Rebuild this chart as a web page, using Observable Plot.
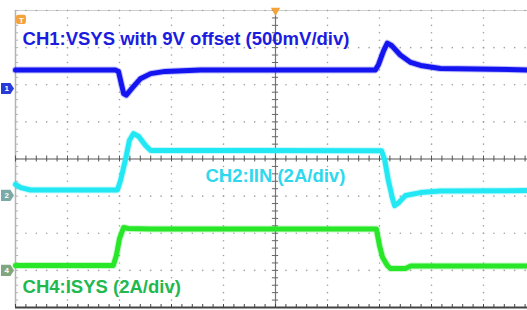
<!DOCTYPE html>
<html><head><meta charset="utf-8">
<script src="https://cdn.jsdelivr.net/npm/d3@7"></script>
<script src="https://cdn.jsdelivr.net/npm/@observablehq/plot@0.6"></script>
<style>html,body{margin:0;padding:0;background:#fff;} #chart{width:527px;height:310px;overflow:hidden}</style>
</head><body><div id="chart"></div>
<script>
// time in screen divisions
const ch1Time  = [0, 1.92, 1.98, 2.04, 2.08, 2.13, 2.25, 2.40, 2.60, 2.88, 3.56, 6.92, 6.98, 7.08, 7.15, 7.23, 7.40, 7.60, 7.79, 8.17, 9.85];
const ch1Volts = [9.25, 9.25, 9.23, 9.05, 8.93, 8.91, 9.01, 9.13, 9.20, 9.23, 9.25, 9.25, 9.32, 9.51, 9.61, 9.58, 9.45, 9.35, 9.31, 9.27, 9.25];
const ch2Time  = [0, 0.10, 0.29, 1.96, 2.02, 2.12, 2.19, 2.27, 2.37, 2.50, 2.60, 3.56, 7.04, 7.10, 7.17, 7.25, 7.29, 7.37, 7.50, 7.79, 8.17, 9.85];
const ch2Amps  = [0.59, 0.42, 0.29, 0.29, 0.80, 1.99, 2.96, 3.33, 3.17, 2.69, 2.42, 2.42, 2.40, 1.92, 0.80, -0.17, -0.55, -0.39, -0.01, 0.15, 0.23, 0.26];
const ch4Time  = [0, 1.88, 1.94, 2.00, 2.08, 2.17, 2.60, 6.94, 7.00, 7.06, 7.15, 7.21, 7.50, 7.60, 9.85];
const ch4Amps  = [0.26, 0.26, 0.80, 1.71, 2.31, 2.26, 2.23, 2.23, 1.34, 0.69, 0.26, 0.10, 0.10, 0.23, 0.23];

const ch1Offset = 9, ch1Scale = 0.5, ch1Pos = 1.90;
const ch2Scale = 2, ch2Pos = -0.98;
const ch4Scale = 2, ch4Pos = -3.0;

const labels = ["CH1:VSYS with 9V offset (500mV/div)", "CH2:IIN (2A/div)", "CH4:ISYS (2A/div)"];
const channelNames = ["1", "2", "4"];

const ch1 = ch1Time.map((t, i) => ({t, y: ch1Pos + (ch1Volts[i] - ch1Offset) / ch1Scale}));
const ch2 = ch2Time.map((t, i) => ({t, y: ch2Pos + ch2Amps[i] / ch2Scale}));
const ch4 = ch4Time.map((t, i) => ({t, y: ch4Pos + ch4Amps[i] / ch4Scale}));

const xMajor = d3.range(1, 10).filter(x => x !== 5);
const yMajor = [-3, -2, -1, 1, 2, 3];
const xMinor = d3.range(0, 9.9, 0.2);
const yMinor = d3.range(-4, 4.001, 0.2);
const vDots = xMajor.flatMap(x => yMinor.map(y => ({x, y})));
const hDots = yMajor.flatMap(y => xMinor.map(x => ({x, y})));
const topDots = xMinor.map(x => ({x, y: 4}));

const arrow = {draw(ctx, size) {
  const s = Math.sqrt(size / Math.PI);
  ctx.moveTo(-s, -s * 0.85);
  ctx.lineTo(s * 0.45, -s * 0.85);
  ctx.lineTo(s, 0);
  ctx.lineTo(s * 0.45, s * 0.85);
  ctx.lineTo(-s, s * 0.85);
  ctx.closePath();
}};

const markers = [
  {name: channelNames[0], y: ch1Pos, fill: "#2a3ad8"},
  {name: channelNames[1], y: ch2Pos, fill: "#79aaa6"},
  {name: channelNames[2], y: ch4Pos, fill: "#7fa67f"}
];

const font = "Liberation Sans, Arial, sans-serif";

const traceMarks = (data, color) => [
  Plot.line(data, {x: "t", y: "y", stroke: color, strokeWidth: 7, strokeOpacity: 0.25, strokeLinejoin: "round"}),
  Plot.line(data, {x: "t", y: "y", stroke: color, strokeWidth: 5, strokeLinejoin: "round"})
];

const chart = Plot.plot({
  width: 527, height: 310,
  marginLeft: 15, marginRight: 0, marginTop: 10, marginBottom: 3,
  x: {domain: [0, 512 / 52], axis: null},
  y: {domain: [-4, 4], axis: null},
  style: {fontFamily: font, background: "white", overflow: "visible"},
  marks: [
    // dotted graticule
    Plot.dot(vDots, {x: "x", y: "y", r: 0.8, fill: "#a0a0a0", stroke: null}),
    Plot.dot(hDots, {x: "x", y: "y", r: 0.8, fill: "#a0a0a0", stroke: null}),
    Plot.ruleY([4], {stroke: "#d0d0d0", strokeWidth: 1}),
    Plot.dot(topDots, {x: "x", y: "y", r: 0.8, fill: "#a0a0a0", stroke: null}),
    Plot.ruleX([0], {stroke: "#b4b4b4", strokeWidth: 1.5}),
    Plot.ruleY(yMinor, {y: d => d, x1: 0, x2: 0.06, stroke: "#b4b4b4"}),
    // centre cross with ticks
    Plot.ruleY([0], {stroke: "#555", strokeWidth: 1.2}),
    Plot.ruleX([5], {stroke: "#777", strokeWidth: 1.2}),
    Plot.ruleX(xMinor, {x: d => d, y1: -0.08, y2: 0.08, stroke: "#555"}),
    Plot.ruleY(yMinor, {y: d => d, x1: 4.94, x2: 5.06, stroke: "#666"}),
    // bottom border
    Plot.ruleY([-4], {stroke: "#444", strokeWidth: 2}),
    Plot.ruleX(xMinor, {x: d => d, y1: -4, y2: -3.92, stroke: "#444"}),
    // traces
    ...traceMarks(ch4, "#28e628"),
    ...traceMarks(ch2, "#22e8f4"),
    ...traceMarks(ch1, "#1414f0"),
    // labels
    Plot.text([labels[0]], {x: 0.135, y: 3.22, text: d => d, fill: "#1c1ce0", fontSize: 18.5, fontWeight: "bold", textAnchor: "start"}),
    Plot.text([labels[1]], {x: 3.654, y: -0.47, text: d => d, fill: "#2fd8ee", fontSize: 18.5, fontWeight: "bold", textAnchor: "start"}),
    Plot.text([labels[2]], {x: 0.135, y: -3.44, text: d => d, fill: "#22b850", fontSize: 18.5, fontWeight: "bold", textAnchor: "start"}),
    // channel markers
    Plot.dot(markers, {x: -0.154, y: "y", r: 6.5, symbol: arrow, fill: d => d.fill, stroke: null}),
    Plot.text(markers, {x: -0.17, y: "y", text: "name", fill: "white", fontSize: 8, fontWeight: "bold"}),
    // trigger markers
    Plot.rect([0], {x1: 0.02, x2: 0.21, y1: 3.62, y2: 3.87, fill: "#f4a23a", rx: 2}),
    Plot.text(["T"], {x: 0.115, y: 3.745, text: d => d, fill: "white", fontSize: 8, fontWeight: "bold"}),
    Plot.dot([5], {x: d => d, y: 4, symbol: "triangle", rotate: 180, r: 3.5, fill: "#f4a23a", stroke: null})
  ]
});
document.getElementById("chart").append(chart);
</script>
</body></html>
